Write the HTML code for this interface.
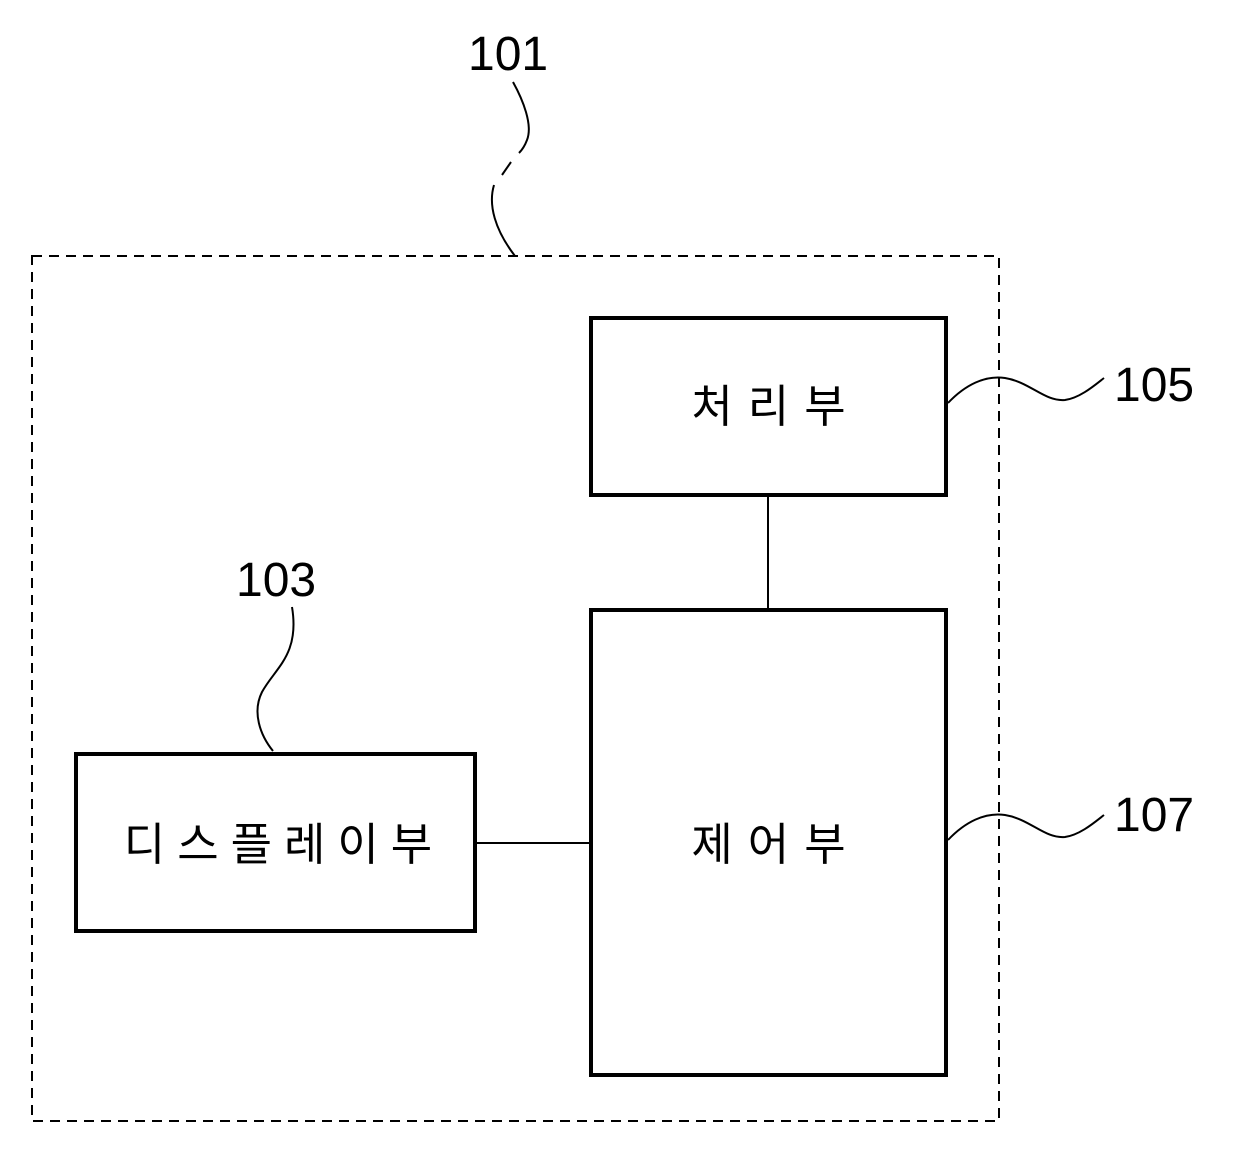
<!DOCTYPE html>
<html><head><meta charset="utf-8"><style>
html,body{margin:0;padding:0;background:#fff;}
</style></head><body>
<svg width="1240" height="1163" viewBox="0 0 1240 1163" xmlns="http://www.w3.org/2000/svg">
<rect width="1240" height="1163" fill="#fff"/>
<rect x="32" y="256" width="967" height="865" fill="none" stroke="#000" stroke-width="2" stroke-dasharray="10,7"/>
<g fill="none" stroke="#000" stroke-width="4">
<rect x="591" y="318" width="355" height="177"/>
<rect x="591" y="610" width="355" height="465"/>
<rect x="76" y="754" width="399" height="177"/>
</g>
<g fill="none" stroke="#000" stroke-width="2">
<line x1="768" y1="495" x2="768" y2="610"/>
<line x1="475" y1="843" x2="591" y2="843"/>
<path d="M513 82 C523 100 533 125 527 140 Q524 148 519 153"/>
<path d="M511 162 L502 175"/>
<path d="M494 185 C488 205 495 230 515 256"/>
<path d="M948 403 C965 385 985 375 1005 378 C1030 382 1045 402 1065 400 C1080 398 1095 385 1104 378"/>
<path d="M948 840 C965 822 985 812 1005 815 C1030 819 1045 839 1065 837 C1080 835 1095 822 1104 815"/>
<path d="M273 751 C260 735 252 712 262 692 C275 668 300 655 292 607"/>
</g>
<g font-family="Liberation Sans, sans-serif" font-size="48" fill="#000">
<text x="468" y="70">101</text>
<text x="1114" y="401">105</text>
<text x="1114" y="831">107</text>
<text x="236" y="596">103</text>
</g>
<g font-family="Liberation Sans, 'Noto Sans CJK KR', sans-serif" font-size="45" fill="#000" text-anchor="middle">
<text x="776" y="422" letter-spacing="15">처리부</text>
<text x="776" y="860" letter-spacing="15">제어부</text>
<text x="284" y="860" letter-spacing="12">디스플레이부</text>
</g>
</svg>
</body></html>
